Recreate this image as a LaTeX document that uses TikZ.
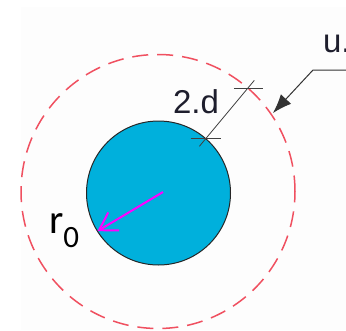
\documentclass[tikz,border=0pt]{standalone}
\usepackage{fontspec}
\setmainfont{Liberation Sans}
\newfontfamily\calib{Carlito}
\usetikzlibrary{arrows.meta,calc}
\definecolor{corefill}{RGB}{0,176,220}
\definecolor{zonered}{RGB}{240,80,96}
\definecolor{labelink}{RGB}{30,30,45}
\definecolor{pagebg}{RGB}{253,253,253}
\definecolor{arrowpink}{RGB}{255,0,255}
\tikzset{
  corestyle/.style={circle,draw=black!85,line width=1pt,fill=corefill,minimum size=144pt,inner sep=0pt,outer sep=0pt},
  zonestyle/.style={circle,draw=zonered,line width=1.5pt,dash pattern=on 16pt off 9pt,minimum size=274pt,inner sep=0pt,outer sep=0pt},
  dimline/.style={draw=black!75,line width=0.8pt},
  leader/.style={draw=black!80,line width=1pt,-{Latex[length=19pt,width=14pt]}},
  radius arrow/.style={draw=arrowpink,line width=2pt,-{Straight Barb[length=17pt,width=21pt,line width=2pt]}},
  lbl/.style={inner sep=0pt,outer sep=0pt,text=labelink,font=\fontsize{33}{33}\selectfont},
}
\begin{document}
\begin{tikzpicture}[x=1pt,y=-1pt]
\clip (0,0) rectangle (346,330);
\fill[pagebg] (21,7) rectangle (346,330);
\node[zonestyle] (zone) at (158,191.5) {};
\node[corestyle] (core) at (158.5,193) {};
% dimension 2.d
\coordinate (din) at ($(core.49.3)!-10pt!(zone.49.3)$);
\coordinate (dout) at ($(zone.49.3)!-10pt!(core.49.3)$);
\draw[dimline] (din) -- (dout);
\draw[dimline] ($(core.49.3)+(-15,0)$) -- ($(core.49.3)+(15,0)$);
\draw[dimline] ($(zone.49.3)+(-14,0)$) -- ($(zone.49.3)+(15,0)$);
\node[lbl,anchor=base west] (dlabel) at (173,113) {2.d};
% leader to zone
\coordinate (l0) at (346,70);
\coordinate (l1) at (313,70);
\coordinate (ltip) at (273,113);
\draw[leader] (l0) -- (l1) -- (ltip);
\node[lbl,anchor=base west] (ulabel) at (323,52) {u.};
% radius arrow
\coordinate (m0) at (163,192);
\draw[radius arrow] (m0) -- (core.212.8);
\node[inner sep=0pt,outer sep=0pt,anchor=base west] (rlabel) at (49,233) {\calib\fontsize{41}{41}\selectfont r\raisebox{-14pt}{\fontsize{31}{31}\selectfont 0}};
\end{tikzpicture}
\end{document}
